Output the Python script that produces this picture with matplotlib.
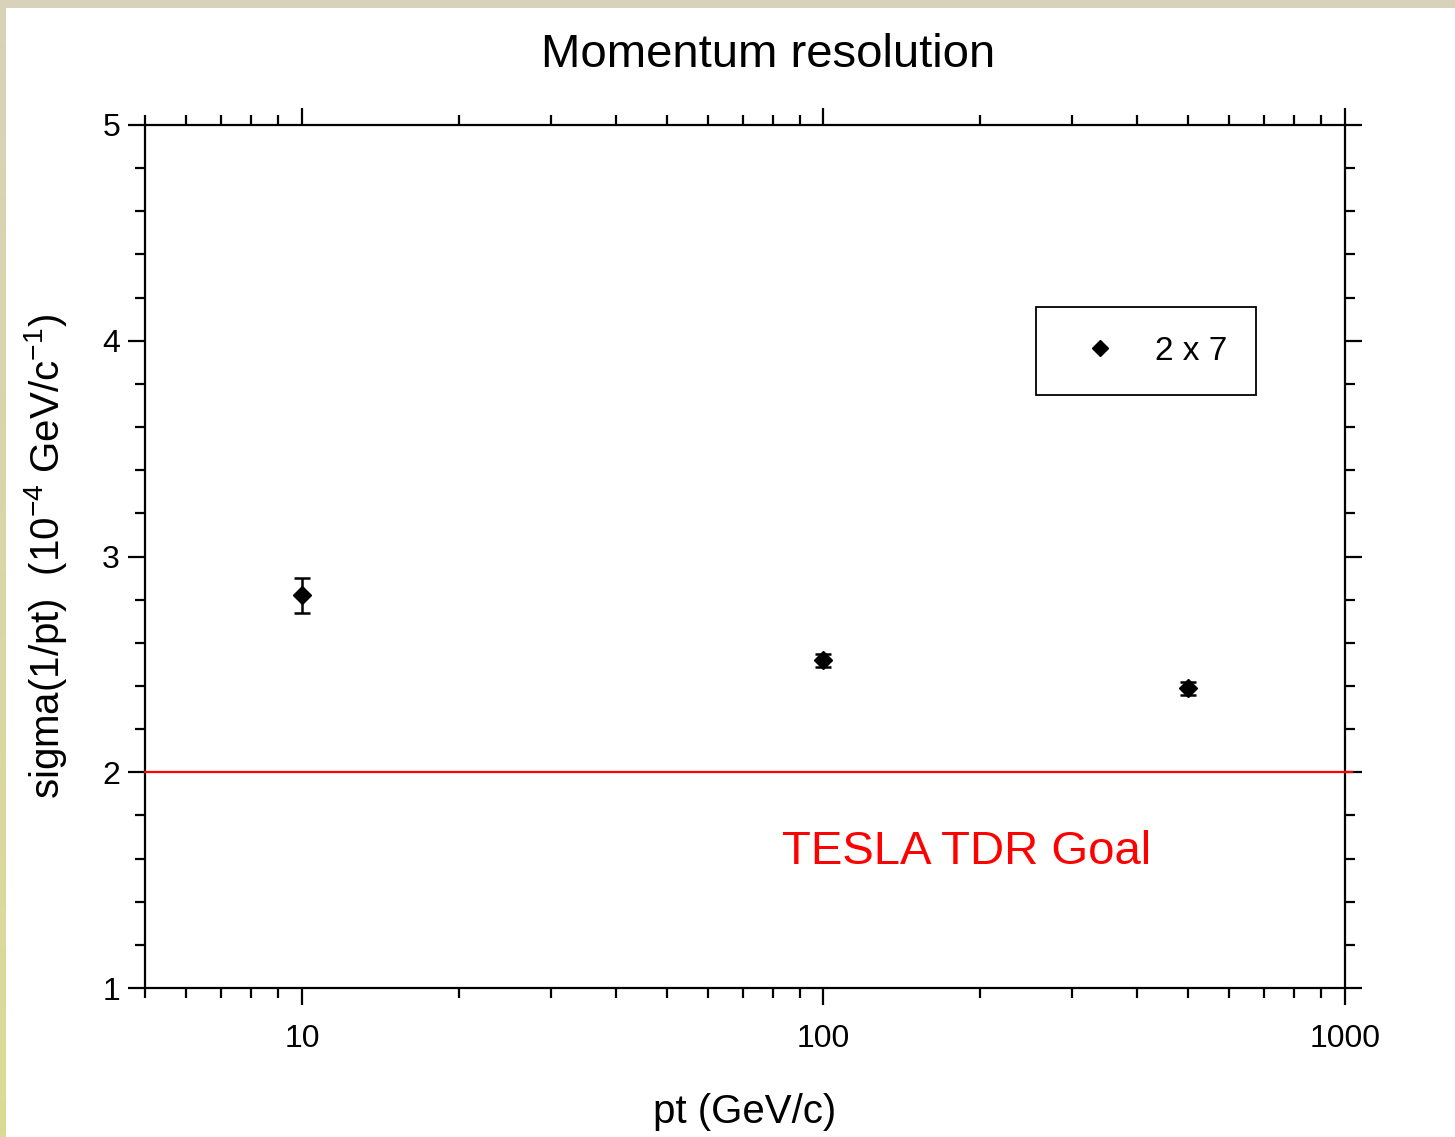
import numpy as np
import matplotlib
matplotlib.use("Agg")
import matplotlib.pyplot as plt
from matplotlib.patches import Rectangle
from matplotlib.lines import Line2D
from matplotlib.ticker import FixedLocator, NullFormatter, MultipleLocator

plt.rcParams["font.family"] = ["Liberation Sans", "DejaVu Sans"]
plt.rcParams["mathtext.fontset"] = "custom"
plt.rcParams["mathtext.rm"] = "Liberation Sans"
plt.rcParams["mathtext.it"] = "Liberation Sans:italic"

# data
pt = [10, 100, 500]
sigma = [2.82, 2.52, 2.39]
sigma_err = [0.08, 0.03, 0.03]
goal = 2.0
series_label = "2 x 7"
x_major = [10, 100, 1000]
x_minor = [5, 6, 7, 8, 9, 20, 30, 40, 50, 60, 70, 80, 90,
           200, 300, 400, 500, 600, 700, 800, 900]

fig = plt.figure(figsize=(14.55, 11.37), dpi=100)
fig.patch.set_facecolor("white")

# beige frame strips (top and left)
fig.patches.append(Rectangle((0, 1 - 8 / 1137), 1, 8 / 1137, transform=fig.transFigure,
                             facecolor="#d7d2b9", edgecolor="none", zorder=0))
strip = fig.add_axes([0, 0, 6 / 1455, 1 - 8 / 1137])
grad = np.linspace(0, 1, 256).reshape(-1, 1)
cmap = matplotlib.colors.LinearSegmentedColormap.from_list("b", ["#dcdb95", "#d7d2b9"])
strip.imshow(grad, aspect="auto", cmap=cmap, origin="lower")
strip.axis("off")

ax = fig.add_axes([145 / 1455, 149 / 1137, 1200 / 1455, 863 / 1137])
ax.set_xscale("log")
ax.set_xlim(5, 1000)
ax.set_ylim(1, 5)

ax.errorbar(pt, sigma, yerr=sigma_err, fmt="D", color="black", markersize=9,
            ecolor="black", elinewidth=1.8, capsize=6, capthick=1.8, zorder=3)

ax.axhline(goal, xmin=0, xmax=1.006, color="red", linewidth=1.6,
           clip_on=False, zorder=4)
ax.text(83.4, 1.63, "TESLA TDR Goal", color="red", fontsize=34,
        ha="left", va="center")

ax.xaxis.set_major_locator(FixedLocator(x_major))
ax.xaxis.set_minor_locator(FixedLocator(x_minor))
ax.xaxis.set_minor_formatter(NullFormatter())
ax.set_xticklabels([str(v) for v in x_major])
ax.yaxis.set_major_locator(MultipleLocator(1))
ax.yaxis.set_minor_locator(MultipleLocator(0.2))

for s in ax.spines.values():
    s.set_linewidth(1.6)
ax.tick_params(which="both", direction="out", top=True, right=True,
               width=1.6, labelsize=23, colors="black")
ax.tick_params(which="major", length=12, pad=6)
ax.tick_params(axis="x", which="major", pad=14)
ax.tick_params(which="minor", length=7)

ax.set_title("Momentum resolution", fontsize=34, pad=42, x=0.519)
ax.set_xlabel("pt (GeV/c)", fontsize=29, labelpad=28)
ax.set_ylabel(r"sigma(1/pt)  (10$^{-4}$ GeV/c$^{-1}$)", fontsize=29, labelpad=24)

handle = Line2D([], [], marker="D", linestyle="none", color="black", markersize=8)
leg = ax.legend([handle], [series_label], loc="upper left",
                bbox_to_anchor=(891 / 1200, 1 - 182 / 863),
                frameon=True, fancybox=False, fontsize=24, handletextpad=0.6,
                borderpad=0.86, handlelength=2.1, borderaxespad=0)
leg.get_frame().set_edgecolor("black")
leg.get_frame().set_linewidth(1.3)
leg.get_frame().set_alpha(1)

fig.savefig("out.png", dpi=100, facecolor="white")
